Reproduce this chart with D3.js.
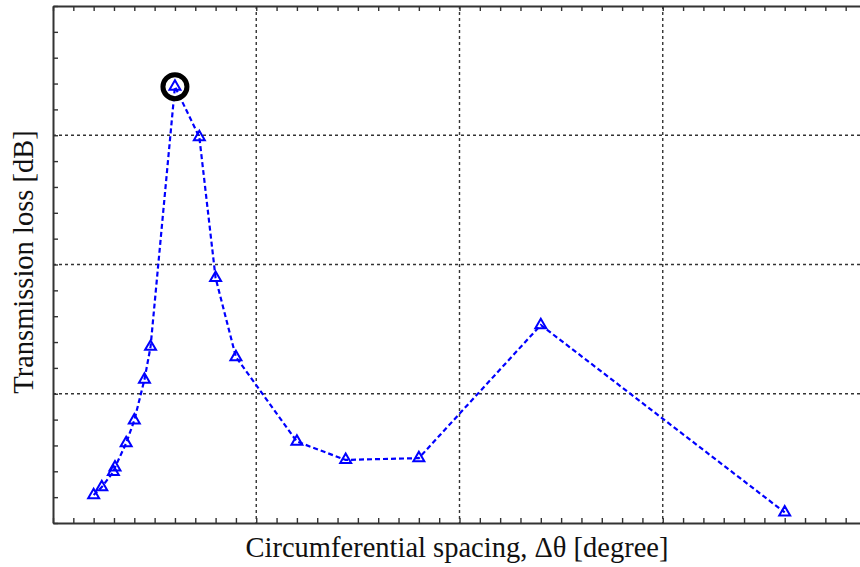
<!DOCTYPE html>
<html>
<head>
<meta charset="utf-8">
<script src="https://cdn.jsdelivr.net/npm/d3@7"></script>
<style>
  html, body { margin: 0; padding: 0; background: #fff; }
  svg { display: block; }
  .lbl { font-family: "Liberation Serif", "Times New Roman", serif; font-size: 28.5px; fill: #111; }
</style>
</head>
<body>
<svg id="chart" width="860" height="567"></svg>
<script>
// Circumferential spacing (degree) and transmission loss (dB)
const spacing = [2, 2.4, 2.97, 3.05, 3.6, 4, 4.5, 4.8, 6, 7.2, 8, 9, 12, 14.4, 18, 24, 36];
const loss    = [1.08, 1.39, 1.98, 2.15, 3.09, 3.97, 5.55, 6.82, 16.88, 14.93, 9.48, 6.42, 3.15, 2.44, 2.51, 7.66, 0.41];
// Highlighted maximum
const peakIndex = [8];
// Axis ranges and tick steps
const xDomain = [0, 40];
const yDomain = [0, 20];
const xMinorTicks = d3.range(0, 41, 1);
const yMinorTicks = d3.range(0, 21, 1);
const xGrid = [10, 20, 30];
const yGrid = [5, 10, 15];
const xTitle = "Circumferential spacing, \u0394\u03b8 [degree]";
const yTitle = "Transmission loss [dB]";

const svg = d3.select("#chart");
const plotL = 53, plotT = 6, plotB = 523, plotR = 866;

const x = d3.scaleLinear().domain(xDomain).range([plotL, plotR]);
const y = d3.scaleLinear().domain(yDomain).range([plotB, plotT]);

// grid
const grid = svg.append("g").attr("stroke", "#333").attr("stroke-width", 1.4)
  .attr("stroke-dasharray", "3,3");
grid.selectAll(".gx").data(xGrid).join("line")
  .attr("x1", d => x(d)).attr("x2", d => x(d)).attr("y1", plotT).attr("y2", plotB);
grid.selectAll(".gy").data(yGrid).join("line")
  .attr("x1", plotL).attr("x2", plotR).attr("y1", d => y(d)).attr("y2", d => y(d));

// axes with inward ticks, no labels
function styleAxis(g) {
  g.selectAll("path.domain").attr("stroke", "#333").attr("stroke-width", 2);
  g.selectAll(".tick line").attr("stroke", "#333").attr("stroke-width", 1.4);
  g.selectAll(".tick text").remove();
}
svg.append("g").attr("transform", `translate(0,${plotB})`)
  .call(d3.axisBottom(x).tickValues(xMinorTicks).tickSize(-5).tickSizeOuter(0).tickFormat(""))
  .call(styleAxis);
svg.append("g").attr("transform", `translate(0,${plotT})`)
  .call(d3.axisTop(x).tickValues(xMinorTicks).tickSize(-5).tickSizeOuter(0).tickFormat(""))
  .call(styleAxis);
svg.append("g").attr("transform", `translate(${plotL},0)`)
  .call(d3.axisLeft(y).tickValues(yMinorTicks).tickSize(-5).tickSizeOuter(0).tickFormat(""))
  .call(styleAxis);

// series
const pts = spacing.map((s, i) => ({ s, v: loss[i] }));
const line = d3.line().x(d => x(d.s)).y(d => y(d.v));
svg.append("path").datum(pts)
  .attr("d", line)
  .attr("fill", "none")
  .attr("stroke", "#0000ff")
  .attr("stroke-width", 2.2)
  .attr("stroke-dasharray", "5,3");

const tri = d3.symbol().type(d3.symbolTriangle).size(52);
svg.selectAll(".mk").data(pts).join("path")
  .attr("transform", d => `translate(${x(d.s)},${y(d.v)})`)
  .attr("d", tri)
  .attr("fill", "none")
  .attr("stroke", "#0000ff")
  .attr("stroke-width", 2);

// circle around maximum
svg.selectAll(".pk").data(peakIndex).join("circle")
  .attr("cx", i => x(spacing[i]))
  .attr("cy", i => y(loss[i]))
  .attr("r", 12)
  .attr("fill", "none")
  .attr("stroke", "#000")
  .attr("stroke-width", 5);

// axis titles
svg.append("text").attr("class", "lbl")
  .attr("x", 457).attr("y", 557)
  .attr("text-anchor", "middle")
  .text(xTitle);
svg.append("text").attr("class", "lbl")
  .attr("transform", "translate(33,262) rotate(-90)")
  .attr("text-anchor", "middle")
  .text(yTitle);
</script>
</body>
</html>
